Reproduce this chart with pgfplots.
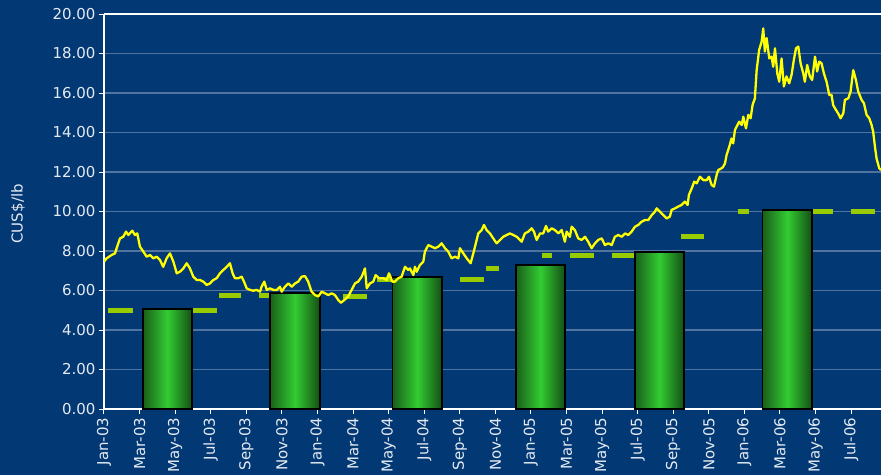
\documentclass[border=0pt]{standalone}
\usepackage{pgfplots}
\pgfplotsset{compat=1.18}
\usepackage{fontspec}
\setmainfont{DejaVu Sans}
\definecolor{bg}{RGB}{2,56,116}
\definecolor{gridc}{RGB}{80,115,160}
\definecolor{txt}{RGB}{228,234,242}
\definecolor{dashg}{RGB}{153,204,0}
\definecolor{bardark}{RGB}{26,96,26}
\definecolor{bardarkr}{RGB}{20,78,20}
\definecolor{barlight}{RGB}{50,204,50}
\definecolor{linec}{RGB}{255,255,0}
\begin{document}
\begin{tikzpicture}
\fill[bg] (0,0) rectangle (881pt,475pt);
\begin{axis}[
  at={(104pt,66pt)}, anchor=south west,
  scale only axis, width=777pt, height=395pt,
  xmin=0, xmax=43.68, ymin=0, ymax=20,
  axis x line=bottom, axis y line=left,
  axis line style={-, draw=white, line width=1.6pt},
  tick align=outside, major tick length=5pt,
  tick style={white, line width=1pt},
  ytick={0,2,...,20},
  yticklabel style={/pgf/number format/.cd, fixed, fixed zerofill, precision=2, assume math mode=true},
  xtick={0,2,...,42},
  xticklabels={Jan-03,Mar-03,May-03,Jul-03,Sep-03,Nov-03,Jan-04,Mar-04,May-04,Jul-04,Sep-04,Nov-04,Jan-05,Mar-05,May-05,Jul-05,Sep-05,Nov-05,Jan-06,Mar-06,May-06,Jul-06},
  xticklabel style={rotate=90, anchor=east},
  tick label style={font=\fontsize{15}{18}\selectfont, text=txt},
  ymajorgrids, major grid style={gridc, line width=1.2pt},
  extra y ticks={20}, extra y tick labels={},
  extra y tick style={major grid style={white, line width=1.6pt}, major tick length=0pt},
  ylabel={CUS\$/lb},
  ylabel style={at={(axis description cs:-0.1106,0.494)}, anchor=center, font=\fontsize{15}{18}\selectfont, text=txt},
]
% contract price dashes
\addplot[dashg, line width=5pt, unbounded coords=jump, forget plot] coordinates {
(0.24,4.97)(1.61,4.97)(1.62,nan)
(5.02,4.97)(6.33,4.97)(6.40,nan)
(6.48,5.74)(7.70,5.74)(7.80,nan)
(8.73,5.73)(9.60,5.73)(9.70,nan)
(13.46,5.72)(14.77,5.72)(14.80,nan)
(15.35,6.56)(16.40,6.56)(16.50,nan)
(20.01,6.55)(21.39,6.55)(21.42,nan)
(21.47,7.12)(22.22,7.12)(22.30,nan)
(24.61,7.77)(25.17,7.77)(25.20,nan)
(26.19,7.77)(27.54,7.77)(27.60,nan)
(28.54,7.77)(29.81,7.77)(29.90,nan)
(32.42,8.72)(33.74,8.72)(33.80,nan)
(35.66,10.01)(36.26,10.01)(36.30,nan)
(37.29,10.01)(38.60,10.01)(38.70,nan)
(39.65,10.01)(40.96,10.01)(41.00,nan)
(41.99,10.01)(43.34,10.01)
};
% annual bars
\addplot[draw=black, line width=1.2pt, left color=bardark, right color=bardarkr, middle color=barlight] coordinates {(2.19,0)(2.19,5.06)(4.95,5.06)(4.95,0)} -- cycle;
\addplot[draw=black, line width=1.2pt, left color=bardark, right color=bardarkr, middle color=barlight] coordinates {(9.33,0)(9.33,5.87)(12.14,5.87)(12.14,0)} -- cycle;
\addplot[draw=black, line width=1.2pt, left color=bardark, right color=bardarkr, middle color=barlight] coordinates {(16.24,0)(16.24,6.68)(19.00,6.68)(19.00,0)} -- cycle;
\addplot[draw=black, line width=1.2pt, left color=bardark, right color=bardarkr, middle color=barlight] coordinates {(23.16,0)(23.16,7.29)(25.91,7.29)(25.91,0)} -- cycle;
\addplot[draw=black, line width=1.2pt, left color=bardark, right color=bardarkr, middle color=barlight] coordinates {(29.85,0)(29.85,7.95)(32.60,7.95)(32.60,0)} -- cycle;
\addplot[draw=black, line width=1.2pt, left color=bardark, right color=bardarkr, middle color=barlight] coordinates {(37.04,0)(37.04,10.08)(39.80,10.08)(39.80,0)} -- cycle;
% spot price
\addplot[linec, line width=2.3pt, line join=round] coordinates {
(0.00,7.46)(0.15,7.63)(0.43,7.80)(0.62,7.88)(0.71,8.14)(0.90,8.64)(1.08,8.72)(1.24,8.98)(1.37,8.81)(1.59,9.03)(1.74,8.81)(1.87,8.89)(2.02,8.22)(2.21,7.97)(2.40,7.71)(2.59,7.80)(2.77,7.63)(2.96,7.71)(3.15,7.54)(3.33,7.20)(3.52,7.63)(3.71,7.88)(3.90,7.46)(4.09,6.87)(4.27,6.95)(4.46,7.12)(4.65,7.38)(4.83,7.12)(5.02,6.70)(5.21,6.53)(5.40,6.53)(5.58,6.45)(5.77,6.28)(5.96,6.36)(6.14,6.53)(6.33,6.62)(6.52,6.87)(6.71,7.04)(6.90,7.20)(7.08,7.38)(7.23,6.87)(7.36,6.62)(7.55,6.62)(7.74,6.70)(7.87,6.45)(8.02,6.11)(8.21,6.03)(8.39,5.99)(8.58,6.03)(8.77,5.94)(8.86,6.19)(9.01,6.45)(9.15,6.03)(9.33,6.11)(9.52,6.03)(9.71,6.03)(9.89,6.19)(9.99,5.94)(10.17,6.19)(10.36,6.36)(10.55,6.19)(10.74,6.36)(10.92,6.45)(11.11,6.70)(11.30,6.73)(11.48,6.45)(11.67,5.94)(11.86,5.77)(12.05,5.70)(12.24,5.94)(12.42,5.86)(12.61,5.77)(12.80,5.86)(12.98,5.77)(13.17,5.52)(13.32,5.38)(13.55,5.55)(13.73,5.70)(13.92,6.03)(14.11,6.36)(14.29,6.45)(14.49,6.70)(14.67,7.12)(14.77,6.11)(14.95,6.36)(15.14,6.45)(15.27,6.78)(15.46,6.62)(15.70,6.62)(15.89,6.53)(16.02,6.87)(16.21,6.45)(16.36,6.45)(16.54,6.62)(16.73,6.70)(16.92,7.20)(17.10,7.04)(17.20,7.12)(17.39,6.78)(17.48,7.20)(17.58,6.95)(17.76,7.29)(17.95,7.46)(18.04,7.97)(18.23,8.30)(18.42,8.22)(18.61,8.14)(18.79,8.22)(18.98,8.39)(19.17,8.14)(19.35,7.97)(19.54,7.63)(19.73,7.71)(19.92,7.63)(20.01,8.14)(20.20,7.88)(20.39,7.63)(20.61,7.38)(20.76,7.88)(20.95,8.56)(21.04,8.89)(21.23,9.06)(21.36,9.32)(21.51,9.06)(21.70,8.89)(21.88,8.64)(22.07,8.39)(22.26,8.56)(22.44,8.72)(22.64,8.81)(22.82,8.89)(23.01,8.81)(23.20,8.72)(23.48,8.47)(23.66,8.89)(23.85,8.98)(24.04,9.15)(24.17,8.98)(24.32,8.56)(24.51,8.89)(24.69,8.89)(24.85,9.27)(24.97,8.98)(25.17,9.15)(25.35,9.06)(25.54,8.89)(25.73,9.06)(25.91,8.47)(26.01,8.98)(26.19,8.72)(26.29,9.23)(26.47,9.06)(26.66,8.64)(26.85,8.56)(27.04,8.72)(27.22,8.47)(27.41,8.14)(27.60,8.39)(27.78,8.56)(27.98,8.64)(28.16,8.30)(28.35,8.39)(28.54,8.30)(28.72,8.72)(28.91,8.81)(29.10,8.72)(29.29,8.89)(29.47,8.81)(29.66,8.98)(29.85,9.23)(30.03,9.32)(30.22,9.48)(30.41,9.57)(30.60,9.57)(30.79,9.82)(30.97,9.99)(31.07,10.16)(31.25,9.99)(31.44,9.82)(31.63,9.65)(31.81,9.74)(31.91,10.08)(32.10,10.16)(32.28,10.25)(32.47,10.33)(32.66,10.50)(32.81,10.33)(32.88,10.84)(33.04,11.17)(33.18,11.51)(33.32,11.43)(33.50,11.76)(33.69,11.59)(33.88,11.59)(34.01,11.76)(34.16,11.34)(34.29,11.26)(34.44,11.85)(34.53,12.10)(34.72,12.19)(34.81,12.27)(34.91,12.44)(35.00,12.86)(35.15,13.28)(35.28,13.70)(35.37,13.45)(35.47,14.13)(35.56,14.29)(35.71,14.55)(35.85,14.38)(35.94,14.80)(36.09,14.21)(36.22,14.89)(36.35,14.72)(36.46,15.39)(36.59,15.73)(36.69,17.16)(36.83,18.18)(36.97,18.60)(37.06,19.27)(37.15,18.10)(37.25,18.78)(37.40,17.75)(37.53,17.84)(37.62,17.33)(37.72,18.26)(37.85,16.99)(37.96,16.57)(38.09,17.75)(38.22,16.33)(38.37,16.84)(38.52,16.49)(38.65,16.91)(38.78,17.67)(38.90,18.26)(39.03,18.35)(39.16,17.50)(39.31,16.99)(39.40,16.57)(39.53,17.42)(39.68,16.84)(39.81,16.66)(39.97,17.84)(40.09,17.09)(40.21,17.59)(40.34,17.50)(40.47,16.99)(40.62,16.57)(40.77,15.90)(40.90,15.90)(40.99,15.39)(41.15,15.14)(41.27,14.97)(41.41,14.72)(41.56,14.97)(41.65,15.65)(41.84,15.73)(41.97,16.07)(42.12,17.16)(42.27,16.66)(42.40,16.07)(42.59,15.65)(42.72,15.48)(42.87,14.89)(43.02,14.72)(43.15,14.38)(43.24,14.04)(43.34,13.28)(43.43,12.69)(43.58,12.19)(43.68,12.10)
};
\end{axis}
\pgfresetboundingbox
\path[use as bounding box] (0,0) rectangle (881pt,475pt);
\end{tikzpicture}
\end{document}
